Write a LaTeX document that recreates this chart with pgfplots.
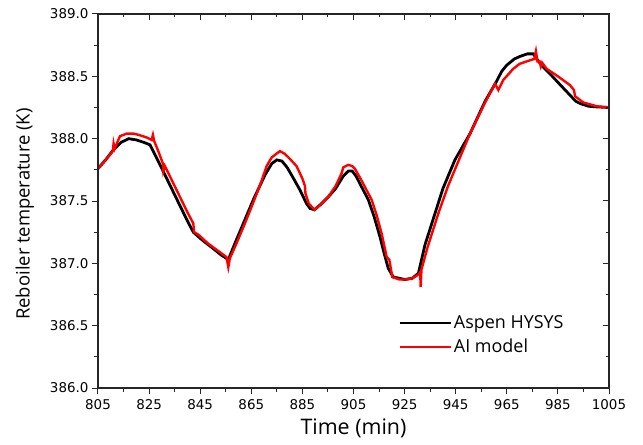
\documentclass[border=0pt]{standalone}
\usepackage{fontspec}
\setmainfont{Open Sans}
\newfontfamily\tickfont{DejaVu Sans}
\usepackage{pgfplots}
\pgfplotsset{compat=1.18}

% reboiler temperature
\pgfplotstableread{
t T
805 387.76
808 387.83
811 387.91
814 387.97
817 388.00
820 387.99
823 387.97
825.4 387.95
830 387.76
835 387.55
840 387.34
842.3 387.25
845.6 387.19
850 387.12
853 387.07
856 387.03
859 387.18
862.5 387.35
866 387.52
870.4 387.71
873 387.80
875 387.83
877 387.82
879 387.77
881 387.70
884 387.59
886.6 387.48
888 387.44
889.7 387.43
892 387.47
895 387.53
898 387.60
901 387.70
903 387.74
904.5 387.74
906 387.70
908 387.62
910.8 387.51
913 387.38
915.4 387.21
917 387.08
918.6 386.96
920.6 386.89
923 386.88
925 386.87
928 386.88
930.4 386.92
933 387.15
936.9 387.40
940 387.60
944.7 387.83
950.6 388.04
956.5 388.30
961 388.46
963 388.54
965 388.59
968 388.64
970.2 388.66
973 388.68
975.4 388.68
976.7 388.64
979 388.58
981.9 388.52
986 388.43
989.7 388.35
992 388.30
994 388.28
997 388.26
1000 388.255
1005 388.25
}\hysys

\pgfplotstableread{
t T
805 387.76
808 387.83
810.8 387.90
811.1 387.96
811.5 387.92
813.6 388.02
816.2 388.04
819 388.04
821 388.03
824 388.01
826 387.99
826.5 388.03
827 387.98
828.6 387.90
830.4 387.80
830.6 387.74
831.2 387.78
835 387.62
840 387.41
842.3 387.32
842.6 387.25
844.3 387.23
848 387.16
852 387.10
855.3 387.05
856 386.97
856.6 387.04
859 387.15
862.5 387.32
866 387.50
869 387.66
871 387.78
873 387.85
876.2 387.90
878 387.88
880 387.84
882.7 387.78
885 387.68
886 387.62
886.2 387.56
887.5 387.48
889.7 387.43
892 387.47
895 387.53
898 387.62
900.3 387.72
901 387.77
903 387.79
904.5 387.78
905.5 387.76
908 387.67
912.1 387.51
914 387.39
916 387.24
918 387.05
919 387.03
920.2 386.89
923 386.87
925.2 386.87
928 386.88
930.4 386.91
931.1 386.93
931.3 386.81
931.6 386.95
934 387.13
938.2 387.40
942 387.62
947.3 387.88
950.6 388.04
956.5 388.29
960.4 388.44
961.7 388.39
963.6 388.47
967.5 388.56
970 388.60
972.8 388.62
975.8 388.64
976.4 388.70
977 388.62
977.8 388.62
978.3 388.58
978.8 388.61
980.6 388.56
985 388.50
989.7 388.43
991.3 388.39
991.7 388.34
995 388.29
1000.2 388.26
1005 388.25
}\aimodel

\begin{document}
\begin{tikzpicture}
\pgfplotsset{
  box/.style={
    scale only axis, width=511bp, height=374bp,
    at={(0,0)}, anchor=south west,
    xmin=805, xmax=1005, ymin=386, ymax=389,
    xtick={805,825,...,1005}, ytick={386,386.5,...,389},
    minor x tick num=1, minor y tick num=1,
    major tick length=6bp, minor tick length=3.5bp,
    axis line style={line width=1.1bp, black!85},
    every tick/.style={line width=1bp, black!85},
  }
}
\begin{axis}[box,
    tick align=outside, xtick pos=bottom, ytick pos=left,
    /pgf/number format/assume math mode=true,
    /pgf/number format/1000 sep={},
    tick label style={font=\tickfont\fontsize{13.5}{16}\selectfont},
    xticklabel style={yshift=-2bp},
    yticklabel style={/pgf/number format/fixed, /pgf/number format/fixed zerofill, /pgf/number format/precision=1},
    xlabel={Time (min)}, ylabel={Reboiler temperature (K)},
    xlabel style={font=\fontsize{21.5}{26}\selectfont, yshift=-2bp},
    ylabel style={font=\fontsize{18.5}{22}\selectfont, yshift=9bp, xshift=-13bp},
    legend style={draw=none, fill=none, at={(0.587,0.199)}, anchor=north west,
      inner sep=0pt, row sep=5bp, font=\fontsize{18}{22}\selectfont},
    legend cell align=left,
    legend image code/.code={\draw[#1] (0bp,0bp) -- (51bp,0bp);},
  ]
  \addplot[black, line width=2.8bp] table[x=t, y=T] {\hysys};
  \addlegendentry{Aspen HYSYS}
  \addplot[red, line width=2.4bp] table[x=t, y=T] {\aimodel};
  \addlegendentry{AI model}
\end{axis}
\begin{axis}[box, tick align=inside, xtick pos=top, ytick pos=right,
    xticklabels={}, yticklabels={}]
\end{axis}
\path[use as bounding box] (-98bp,-57bp) rectangle (545bp,388bp);
\end{tikzpicture}
\end{document}
